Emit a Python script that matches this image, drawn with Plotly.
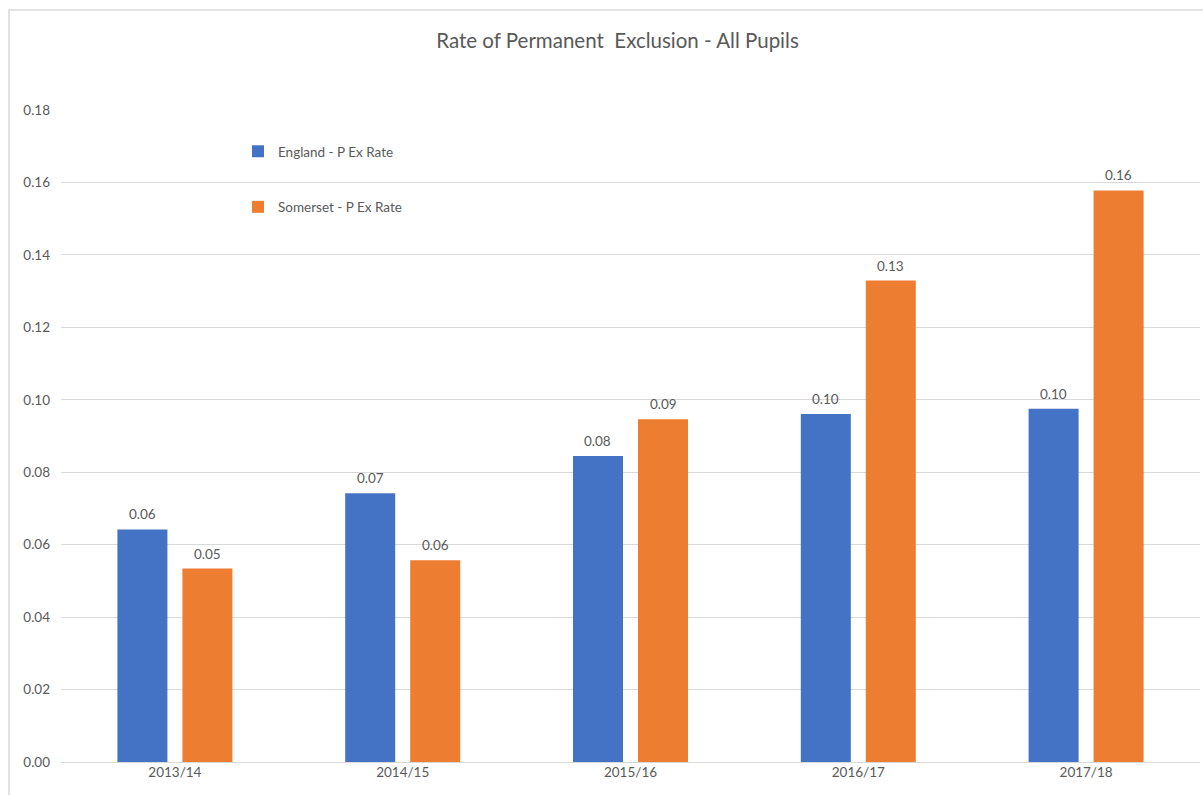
import plotly.graph_objects as go

categories = ["2013/14", "2014/15", "2015/16", "2016/17", "2017/18"]
england = [0.0642, 0.0742, 0.0845, 0.0961, 0.0975]
somerset = [0.0534, 0.0557, 0.0946, 0.1329, 0.1578]
y_ticks = [0.00, 0.02, 0.04, 0.06, 0.08, 0.10, 0.12, 0.14, 0.16, 0.18]

FONT = "Lato"
GREY = "#595959"

W, H = 1203, 795
L, R = 61, 1200
T, B = 110, 762

BARGAP = 0.4293
GROUPGAP = 0.2308

fig = go.Figure()
fig.add_trace(go.Bar(
    x=categories, y=england, name="England - P Ex Rate",
    marker=dict(color="#4472C4", line=dict(width=0)),
    legendgroup="a",
))
fig.add_trace(go.Bar(
    x=categories, y=somerset, name="Somerset - P Ex Rate",
    marker=dict(color="#ED7D31", line=dict(width=0)),
    legendgroup="b",
))

pw = R - L
ph = B - T
cat_w = pw / len(categories)
slot = cat_w * (1 - BARGAP) / 2

# data labels placed above each bar via data coordinates
for series, shift in ((england, -slot / 2), (somerset, slot / 2)):
    for c, v in zip(categories, series):
        fig.add_annotation(x=c, y=v, xref="x", yref="y", text=f"{v:.2f}",
                           showarrow=False, xshift=shift, yshift=15,
                           yanchor="middle", xanchor="center",
                           font=dict(family=FONT, size=13.5, color=GREY))

fig.add_shape(type="rect", xref="paper", yref="paper",
              x0=(9 - L) / pw, x1=(1230 - L) / pw,
              y0=(B - 820) / ph, y1=(B - 10) / ph,
              line=dict(color="#D9D9D9", width=1.5), fillcolor="rgba(0,0,0,0)",
              layer="below")

fig.update_layout(
    width=W, height=H,
    margin=dict(l=L, r=W - R, t=T, b=H - B, pad=0),
    paper_bgcolor="white", plot_bgcolor="white",
    title=dict(text="Rate of Permanent  Exclusion - All Pupils", x=617.5 / W, xanchor="center",
               y=1 - 41 / H, yanchor="middle",
               font=dict(family=FONT, size=20.5, color=GREY)),
    barmode="group", bargap=BARGAP, bargroupgap=GROUPGAP,
    font=dict(family=FONT, color=GREY),
    legend=dict(x=(238 - L) / pw, xanchor="left", y=(B - 136) / ph, yanchor="top",
                traceorder="grouped", tracegroupgap=35,
                font=dict(family=FONT, size=13.5, color=GREY),
                bgcolor="rgba(0,0,0,0)"),
    showlegend=True,
    xaxis=dict(showgrid=False, showline=False, ticks="", zeroline=False,
               tickfont=dict(family=FONT, size=13.5, color=GREY)),
    yaxis=dict(range=[0, 0.18], tickvals=y_ticks, tickformat=".2f",
               showgrid=True, gridcolor="#D9D9D9", gridwidth=1,
               zeroline=True, zerolinecolor="#D9D9D9", zerolinewidth=1,
               showline=False, ticks="", ticklen=0, ticklabelstandoff=10,
               tickfont=dict(family=FONT, size=13.5, color=GREY)),
)

fig.write_html("out.html")
